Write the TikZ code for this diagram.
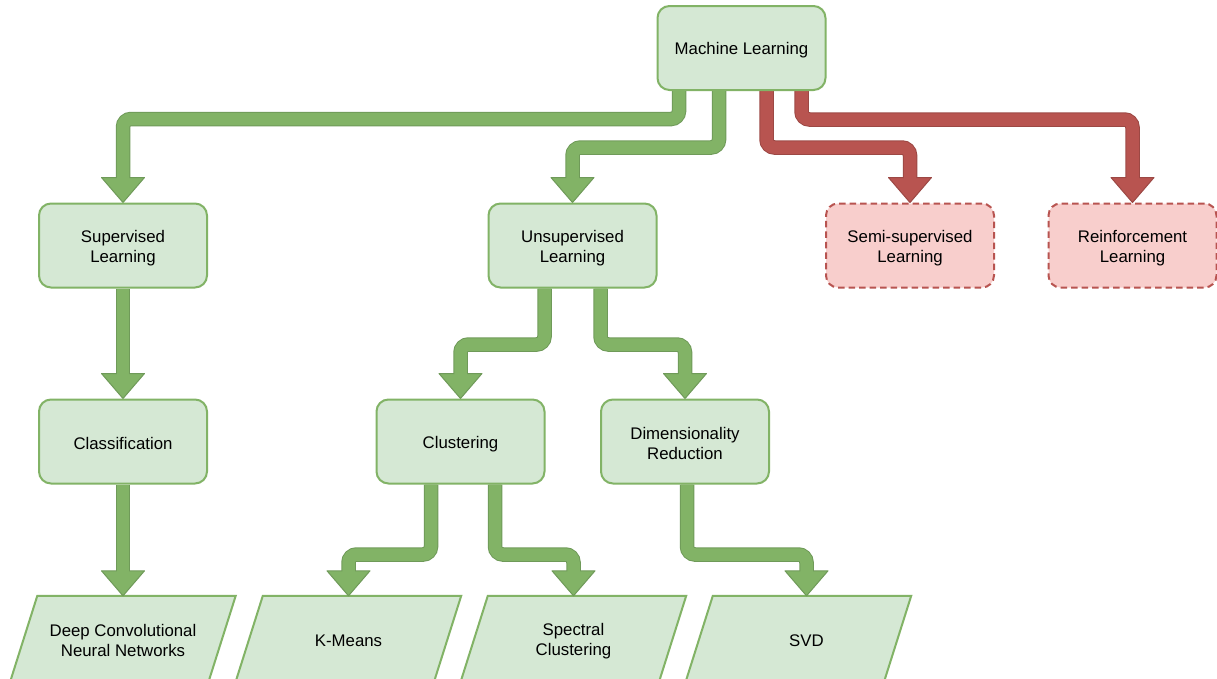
\documentclass[tikz,border=0pt]{standalone}
\usepackage{fontspec}
\setmainfont{Liberation Sans}
\usetikzlibrary{calc,backgrounds}
\definecolor{gfill}{HTML}{D5E8D4}
\definecolor{gline}{HTML}{82B366}
\definecolor{rfill}{HTML}{F8CECC}
\definecolor{rline}{HTML}{B85450}
\definecolor{garrfill}{HTML}{82B366}
\definecolor{garrline}{HTML}{6F9A59}
\definecolor{rarrfill}{HTML}{B85450}
\definecolor{rarrline}{HTML}{9C4844}
\newcommand\lowstrut{\rule{0pt}{17pt}}
\newcommand\flexarr[3]{%
  \draw[#1out] #2 ($(#3.north)+(0,-25)$);
  \filldraw[#1head] ($(#3.north)+(-21.5,-25)$) -- (#3.north) -- ($(#3.north)+(21.5,-25)$) -- cycle;
  \draw[#1in] #2 ($(#3.north)+(0,-23.5)$);
}
\newcommand\paraframe[2]{%
  \filldraw[pshape] ($(#1.north west)+(27+#2,0)$) -- ($(#1.north east)+(#2,0)$) -- ($(#1.south east)+(-27+#2,0)$) -- ($(#1.south west)+(#2,0)$) -- cycle;
}
\begin{document}
\begin{tikzpicture}[x=1pt,y=-1pt,
  every node/.style={font=\fontsize{16.8}{20}\selectfont, align=center, text=black},
  gbox/.style={draw=gline, fill=gfill, line width=2pt, rounded corners=12pt, minimum width=168pt, minimum height=84pt, inner sep=0pt},
  rbox/.style={gbox, draw=rline, fill=rfill, dash pattern=on 6.5pt off 4pt},
  pbox/.style={minimum width=225pt, minimum height=85pt, inner sep=0pt},
  pshape/.style={draw=gline, fill=gfill, line width=2pt, line join=miter},
  gout/.style={draw=garrline, line width=14.5pt, rounded corners=8pt},
  gin/.style={draw=garrfill, line width=12.5pt, rounded corners=8pt},
  ghead/.style={fill=garrfill, draw=garrline, line width=1pt, line join=round},
  rout/.style={draw=rarrline, line width=14.5pt, rounded corners=8pt},
  rin/.style={draw=rarrfill, line width=12.5pt, rounded corners=8pt},
  rhead/.style={fill=rarrfill, draw=rarrline, line width=1pt, line join=round}]
\useasboundingbox (0,0) rectangle (1217,678);

% boxes
\node[gbox] (ml)   at (741.5,48)    {\lowstrut Machine Learning};
\node[gbox] (sup)  at (123,245.5)   {\lowstrut Supervised\\Learning};
\node[gbox] (uns)  at (572.5,245.5) {\lowstrut Unsupervised\\Learning};
\node[rbox] (semi) at (910,245.5)   {\lowstrut Semi-supervised\\Learning};
\node[rbox] (rl)   at (1132.5,245.5){\lowstrut Reinforcement\\Learning};
\node[gbox] (cls)  at (123,441.5)   {\lowstrut Classification};
\node[gbox] (clu)  at (460.5,441.5) {\lowstrut Clustering};
\node[gbox] (dim)  at (685,441.5)   {\lowstrut Dimensionality\\Reduction};

% parallelogram leaves (text nodes)
\node[pbox] (dcnn) at (123,638.5)   {\lowstrut Deep Convolutional\\Neural Networks};
\node[pbox] (km)   at (348.5,638.5) {\lowstrut K-Means};
\node[pbox] (spc)  at (573.5,638.5) {\lowstrut Spectral\\Clustering};
\node[pbox] (svd)  at (806.5,638.5) {\lowstrut SVD};

\begin{pgfonlayer}{background}
  \fill[white] (0,0) rectangle (1217,678);
  \paraframe{dcnn}{0}
  \paraframe{km}{0}
  \paraframe{spc}{0}
  \paraframe{svd}{-8}
  % connectors
  \flexarr{g}{($(ml.south)+(-62.5,0)$) -- ++(0,28) -|}{sup}
  \flexarr{g}{($(ml.south)+(-22.5,0)$) -- ++(0,56.5) -|}{uns}
  \flexarr{r}{($(ml.south)+(25,0)$) -- ++(0,56.5) -|}{semi}
  \flexarr{r}{($(ml.south)+(60,0)$) -- ++(0,28.5) -|}{rl}
  \flexarr{g}{(sup.south) --}{cls}
  \flexarr{g}{($(uns.south)+(-28,0)$) -- ++(0,56) -|}{clu}
  \flexarr{g}{($(uns.south)+(28,0)$) -- ++(0,56) -|}{dim}
  \flexarr{g}{(cls.south) --}{dcnn}
  \flexarr{g}{($(clu.south)+(-29.5,0)$) -- ++(0,70) -|}{km}
  \flexarr{g}{($(clu.south)+(34.5,0)$) -- ++(0,70) -|}{spc}
  \flexarr{g}{($(dim.south)+(2,0)$) -- ++(0,70) -|}{svd}
\end{pgfonlayer}
\end{tikzpicture}
\end{document}
